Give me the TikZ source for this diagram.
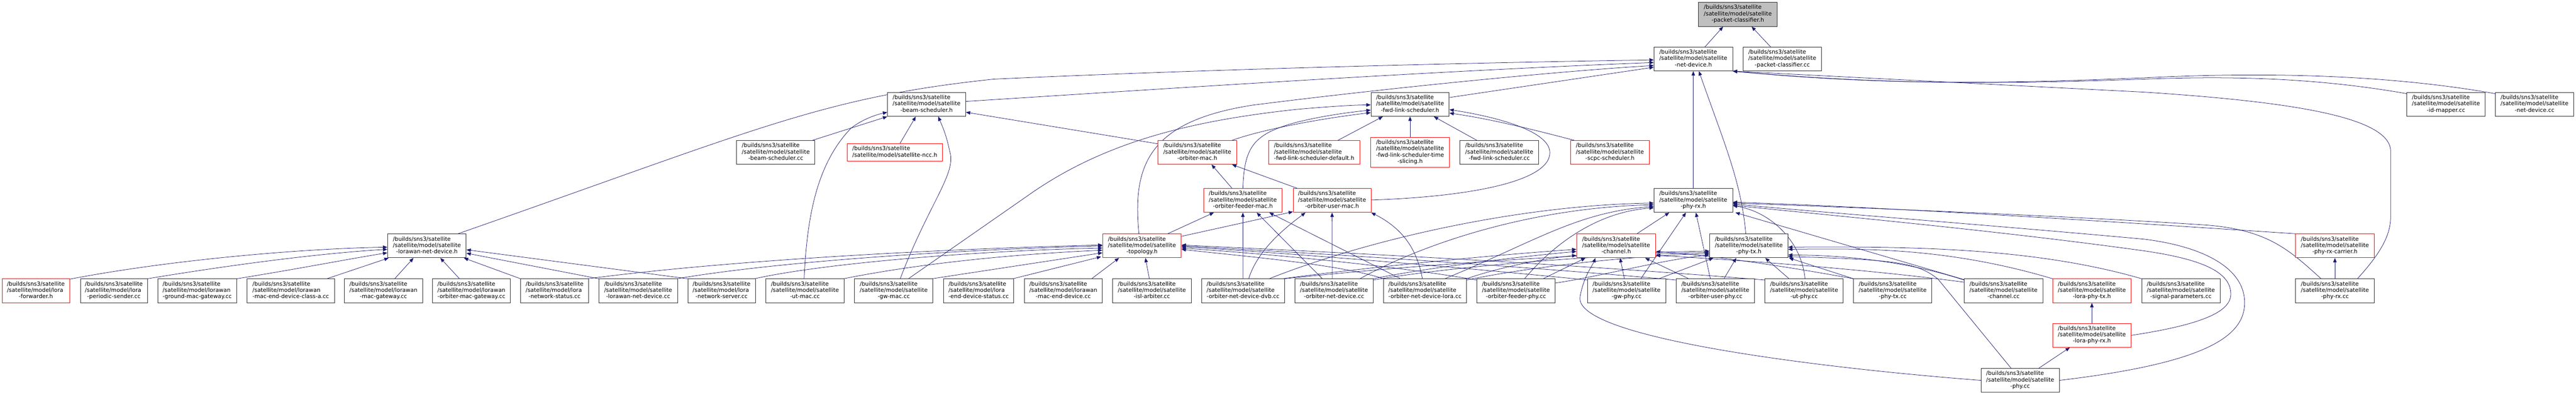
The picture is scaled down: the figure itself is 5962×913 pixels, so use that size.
\documentclass[tikz,border=0pt]{standalone}
\usepackage{fontspec}
\setmainfont{DejaVu Sans}
\usetikzlibrary{arrows.meta,calc}
\definecolor{edgeblue}{RGB}{25,25,112}
\definecolor{boxline}{RGB}{45,45,45}
\definecolor{rootfill}{RGB}{191,191,191}
\newcommand\nodefont{\fontsize{13}{14.5}\selectfont}
\newcommand\lthree[3]{\begin{tabular}{@{}l@{}}#1\\#2\\\multicolumn{1}{@{}c@{}}{#3}\end{tabular}}
\newcommand\sat[1]{\lthree{/builds/sns3/satellite}{/satellite/model/satellite}{#1}}
\newcommand\mdl[2]{\lthree{/builds/sns3/satellite}{/satellite/model/#1}{#2}}
\newcommand\nd[7]{\node[#6, minimum width={(#4-#2)*1pt}, minimum height={(#5-#3)*1pt}] (#1) at ({(#2+#4)/2},{(#3+#5)/2}) {#7};}
\pgfdeclarelayer{bg}
\pgfsetlayers{bg,main}
\tikzset{
  box/.style={draw=boxline, line width=1.1pt, fill=white, inner sep=0pt, font=\nodefont},
  redbox/.style={box, draw=red},
  rootbox/.style={box, fill=rootfill},
  e/.style={draw=edgeblue, line width=0.9pt, -{Triangle[length=10pt,width=8pt]}}
}
\begin{document}
\begin{tikzpicture}[x=1pt,y=-1pt]
\useasboundingbox (0,0) rectangle (5962,913);
% row A/B/C
\nd{pch}{3931}{5}{4113}{61}{rootbox}{\sat{-packet-classifier.h}}
\nd{ndh}{3828}{109}{4010}{164}{box}{\sat{-net-device.h}}
\nd{pcc}{4034}{109}{4216}{164}{box}{\sat{-packet-classifier.cc}}
\nd{bsh}{2054}{214}{2235}{269}{box}{\sat{-beam-scheduler.h}}
\nd{flsh}{3173}{214}{3354}{269}{box}{\sat{-fwd-link-scheduler.h}}
\nd{idm}{5570}{214}{5752}{269}{box}{\sat{-id-mapper.cc}}
\nd{ndcc}{5775}{214}{5957}{269}{box}{\sat{-net-device.cc}}
% row D
\nd{bscc}{1705}{325}{1886}{380}{box}{\sat{-beam-scheduler.cc}}
\nd{ncc}{1961}{332}{2181}{373}{redbox}{\begin{tabular}{@{}l@{}}/builds/sns3/satellite\\/satellite/model/satellite-ncc.h\end{tabular}}
\nd{omh}{2680}{325}{2862}{380}{redbox}{\sat{-orbiter-mac.h}}
\nd{flsd}{2936}{325}{3147}{380}{redbox}{\sat{-fwd-link-scheduler-default.h}}
\nd{flst}{3172}{318}{3355}{387}{redbox}{\begin{tabular}{@{}l@{}}/builds/sns3/satellite\\/satellite/model/satellite\\-fwd-link-scheduler-time\\\multicolumn{1}{@{}c@{}}{-slicing.h}\end{tabular}}
\nd{flscc}{3379}{325}{3561}{380}{box}{\sat{-fwd-link-scheduler.cc}}
\nd{scpc}{3635}{325}{3817}{380}{redbox}{\sat{-scpc-scheduler.h}}
% row E
\nd{ofm}{2786}{436}{2967}{491}{redbox}{\sat{-orbiter-feeder-mac.h}}
\nd{oum}{2993}{436}{3173}{491}{redbox}{\sat{-orbiter-user-mac.h}}
\nd{prxh}{3828}{436}{4010}{491}{box}{\sat{-phy-rx.h}}
% row F
\nd{lnd}{897}{541}{1079}{596}{box}{\sat{-lorawan-net-device.h}}
\nd{topo}{2552}{541}{2734}{596}{redbox}{\sat{-topology.h}}
\nd{chh}{3649}{541}{3832}{596}{redbox}{\sat{-channel.h}}
\nd{ptxh}{3957}{541}{4138}{596}{box}{\sat{-phy-tx.h}}
\nd{prc}{5313}{541}{5495}{596}{redbox}{\sat{-phy-rx-carrier.h}}
% row G
\nd{fwd}{5}{645}{161}{700}{redbox}{\mdl{lora}{-forwarder.h}}
\nd{pss}{186}{645}{341}{700}{box}{\mdl{lora}{-periodic-sender.cc}}
\nd{gmg}{365}{645}{548}{700}{box}{\mdl{lorawan}{-ground-mac-gateway.cc}}
\nd{meda}{572}{645}{774}{700}{box}{\mdl{lorawan}{-mac-end-device-class-a.cc}}
\nd{mgw}{797}{645}{978}{700}{box}{\mdl{lorawan}{-mac-gateway.cc}}
\nd{omg}{1001}{645}{1181}{700}{box}{\mdl{lorawan}{-orbiter-mac-gateway.cc}}
\nd{nst}{1205}{645}{1362}{700}{box}{\mdl{lora}{-network-status.cc}}
\nd{lndcc}{1386}{645}{1568}{700}{box}{\sat{-lorawan-net-device.cc}}
\nd{nsv}{1592}{645}{1748}{700}{box}{\mdl{lora}{-network-server.cc}}
\nd{utm}{1772}{645}{1954}{700}{box}{\sat{-ut-mac.cc}}
\nd{gwm}{1978}{645}{2159}{700}{box}{\sat{-gw-mac.cc}}
\nd{eds}{2184}{645}{2346}{700}{box}{\mdl{lora}{-end-device-status.cc}}
\nd{med}{2371}{645}{2551}{700}{box}{\mdl{lorawan}{-mac-end-device.cc}}
\nd{isl}{2575}{645}{2757}{700}{box}{\sat{-isl-arbiter.cc}}
\nd{ondd}{2781}{645}{2973}{700}{box}{\sat{-orbiter-net-device-dvb.cc}}
\nd{ond}{2997}{645}{3178}{700}{box}{\sat{-orbiter-net-device.cc}}
\nd{ondl}{3202}{645}{3394}{700}{box}{\sat{-orbiter-net-device-lora.cc}}
\nd{ofp}{3418}{645}{3599}{700}{box}{\sat{-orbiter-feeder-phy.cc}}
\nd{gwp}{3674}{645}{3855}{700}{box}{\sat{-gw-phy.cc}}
\nd{oup}{3879}{645}{4061}{700}{box}{\sat{-orbiter-user-phy.cc}}
\nd{utp}{4085}{645}{4266}{700}{box}{\sat{-ut-phy.cc}}
\nd{ptxcc}{4290}{645}{4471}{700}{box}{\sat{-phy-tx.cc}}
\nd{chcc}{4546}{645}{4728}{700}{box}{\sat{-channel.cc}}
\nd{lptx}{4751}{645}{4932}{700}{redbox}{\sat{-lora-phy-tx.h}}
\nd{sigp}{4957}{645}{5138}{700}{box}{\sat{-signal-parameters.cc}}
\nd{prxcc}{5313}{645}{5495}{700}{box}{\sat{-phy-rx.cc}}
% rows H, I
\nd{lprx}{4751}{748}{4932}{803}{redbox}{\sat{-lora-phy-rx.h}}
\nd{phycc}{4585}{852}{4766}{907}{box}{\sat{-phy.cc}}

\begin{pgfonlayer}{bg}
% root
\draw[e] ($(ndh.north)+(27,0)$) -- ($(pch.south)+(-34,0)$);
\draw[e] ($(pcc.north)+(-27,0)$) -- ($(pch.south)+(32,0)$);
% into net-device.h
\draw[e] ($(lnd.north)+(72,0)$) .. controls (1750,300) and (1900,225) .. (2300,183) .. controls (2800,160) and (3400,145) .. ($(ndh.west)+(0,2)$);
\draw[e] ($(bsh.east)+(0,-7)$) .. controls (2700,205) and (3300,165) .. ($(ndh.west)+(0,8)$);
\draw[e] ($(topo.north)+(-7,0)$) .. controls (2620,380) and (2660,280) .. (2900,243) .. controls (3200,205) and (3600,165) .. ($(ndh.west)+(0,15)$);
\draw[e] ($(flsh.north east)+(0,12)$) -- ($(ndh.west)+(0,19)$);
\draw[e] (prxh.north) -- (ndh.south);
\draw[e] ($(ptxh.north)+(-7,0)$) .. controls (4030,420) and (3990,330) .. ($(ndh.south)+(13,0)$);
\draw[e] ($(idm.north west)+(0,3)$) .. controls (5350,178) and (5150,176) .. (4962,183) .. controls (4700,192) and (4400,200) .. (ndh.south east);
\draw[e] ($(ndcc.north west)+(0,3)$) .. controls (5500,168) and (5200,168) .. (4962,180) .. controls (4700,190) and (4400,202) .. (ndh.south east);
\draw[e] ($(prxcc.north)+(52,0)$) .. controls (5515,580) and (5533,540) .. (5533,500) -- (5533,350) .. controls (5533,270) and (5300,235) .. (4962,213) -- (ndh.south east);
% into beam-scheduler.h
\draw[e] ($(bscc.north east)+(-6,0)$) -- (bsh.south west);
\draw[e] ($(utm.north)+(-2,0)$) .. controls (1868,500) and (1890,380) .. (1969,297) .. controls (1990,280) and (2020,267) .. ($(bsh.west)+(0,18)$);
\draw[e] ($(ncc.north)+(12,0)$) -- ($(bsh.south)+(-25,0)$);
\draw[e] ($(gwm.north)+(15,0)$) .. controls (2150,470) and (2215,400) .. (2198,350) .. controls (2190,310) and (2180,290) .. ($(bsh.south)+(27,0)$);
\draw[e] ($(omh.north west)+(0,8)$) -- ($(bsh.east)+(0,18)$);
% into fwd-link-scheduler.h
\draw[e] ($(gwm.north)+(34,0)$) -- (2375,455) .. controls (2550,330) and (2750,280) .. (3000,253) .. controls (3080,246) and (3130,243) .. ($(flsh.west)+(0,1)$);
\draw[e] (ofm.north) .. controls (2880,340) and (2900,310) .. (3000,283) .. controls (3060,268) and (3120,260) .. ($(flsh.west)+(0,13)$);
\draw[e] ($(omh.north east)+(-11,0)$) .. controls (2920,300) and (3050,275) .. ($(flsh.west)+(0,19)$);
\draw[e] ($(flsd.north east)+(-51,0)$) -- ($(flsh.south west)+(28,0)$);
\draw[e] (flst.north) -- (flsh.south);
\draw[e] ($(flscc.north)+(-52,0)$) -- ($(flsh.south)+(55,0)$);
\draw[e] ($(scpc.north west)+(9,0)$) .. controls (3550,300) and (3450,275) .. ($(flsh.east)+(0,20)$);
\draw[e] ($(oum.east)+(0,-1)$) .. controls (3400,455) and (3587,420) .. (3587,353) .. controls (3587,300) and (3450,268) .. ($(flsh.east)+(0,12)$);
% orbiter-mac.h
\draw[e] ($(ofm.north)+(-25,0)$) -- ($(omh.south)+(33,0)$);
\draw[e] ($(oum.north west)+(10,0)$) -- ($(omh.south east)+(-11,0)$);
% orbiter-feeder-mac.h
\draw[e] ($(topo.north east)+(-32,0)$) -- ($(ofm.south west)+(24,0)$);
\draw[e] (ondd.north) -- (ofm.south);
\draw[e] ($(ond.north)+(-27,0)$) -- ($(ofm.south)+(32,0)$);
\draw[e] ($(ondl.north west)+(40,0)$) -- ($(ofm.south east)+(-30,0)$);
% orbiter-user-mac.h
\draw[e] ($(topo.north east)+(0,6)$) -- ($(oum.south west)+(0,-2)$);
\draw[e] ($(ondd.north)+(13,0)$) .. controls (2910,580) and (2970,530) .. ($(oum.south west)+(29,0)$);
\draw[e] ($(ond.north)+(-4,0)$) -- (oum.south);
\draw[e] ($(ondl.north)+(-6,0)$) .. controls (3280,580) and (3250,530) .. (oum.south east);
% lorawan-net-device.h
\draw[e] ($(fwd.north east)+(0,1)$) .. controls (400,600) and (700,575) .. ($(lnd.west)+(0,3)$);
\draw[e] (pss.north east) .. controls (550,610) and (750,585) .. ($(lnd.west)+(0,8)$);
\draw[e] (gmg.north east) .. controls (700,620) and (800,600) .. ($(lnd.west)+(0,16)$);
\draw[e] ($(meda.north east)+(-18,0)$) -- ($(lnd.south west)+(3,0)$);
\draw[e] ($(mgw.north)+(26,0)$) -- ($(lnd.south)+(-31,0)$);
\draw[e] ($(omg.north west)+(63,0)$) -- ($(lnd.south)+(31,0)$);
\draw[e] (nst.north west) -- ($(lnd.south east)+(-6,0)$);
\draw[e] (lndcc.north west) -- ($(lnd.east)+(0,17)$);
\draw[e] (nsv.north west) -- ($(lnd.east)+(0,9)$);
% topology.h from left/below
\draw[e] ($(nst.north east)+(-2,0)$) .. controls (1700,600) and (2200,575) .. ($(topo.west)+(0,-2)$);
\draw[e] ($(lndcc.north east)+(-2,0)$) .. controls (1800,605) and (2200,578) .. (topo.west);
\draw[e] ($(nsv.north east)+(-2,0)$) .. controls (1900,610) and (2250,580) .. ($(topo.west)+(0,5)$);
\draw[e] ($(utm.north east)+(-2,0)$) .. controls (2100,615) and (2300,590) .. ($(topo.west)+(0,10)$);
\draw[e] ($(gwm.north east)+(-2,0)$) -- ($(topo.west)+(0,16)$);
\draw[e] ($(eds.north east)+(-2,0)$) -- ($(topo.south west)+(-3,-3)$);
\draw[e] ($(med.north east)+(-25,0)$) -- ($(topo.south)+(-53,0)$);
\draw[e] ($(isl.north)+(-6,0)$) -- ($(topo.south)+(8,0)$);
% topology.h from right
\draw[e] (ondl.north west) .. controls (3100,610) and (2850,590) .. ($(topo.east)+(0,8)$);
\draw[e] ($(ofp.north west)+(0,3)$) .. controls (3200,610) and (2900,585) .. ($(topo.east)+(0,5)$);
\draw[e] ($(gwp.north west)+(0,3)$) .. controls (3300,610) and (2900,580) .. ($(topo.east)+(0,2)$);
\draw[e] ($(oup.north west)+(0,3)$) .. controls (3400,605) and (2900,578) .. (topo.east);
\draw[e] ($(utp.north west)+(0,3)$) .. controls (3500,600) and (2900,575) .. ($(topo.east)+(0,-2)$);
% channel.h
\draw[e] ($(ondd.north east)+(-5,0)$) .. controls (3150,620) and (3450,590) .. ($(chh.west)+(0,8)$);
\draw[e] (ond.north east) .. controls (3300,620) and (3500,595) .. ($(chh.west)+(0,13)$);
\draw[e] (ondl.north east) .. controls (3450,625) and (3550,600) .. ($(chh.west)+(0,22)$);
\draw[e] ($(ofp.north east)+(-28,0)$) -- ($(chh.south west)+(21,0)$);
\draw[e] ($(gwp.north)+(-5,0)$) -- ($(chh.south)+(9,0)$);
\draw[e] ($(oup.north west)+(30,0)$) -- ($(chh.south east)+(-25,0)$);
\draw[e] (phycc.west) .. controls (4200,850) and (3640,780) .. (3657,686) .. controls (3665,640) and (3685,615) .. ($(chh.south)+(-48,0)$);
\draw[e] ($(chcc.north west)+(0,8)$) .. controls (4300,620) and (4000,600) .. ($(chh.east)+(0,22)$);
\draw[e] (ptxcc.north west) .. controls (4100,610) and (3950,590) .. ($(chh.east)+(0,13)$);
% phy-tx.h
\draw[e] (ondd.north east) .. controls (3300,610) and (3700,585) .. ($(ptxh.west)+(0,12)$);
\draw[e] ($(ond.north east)+(0,3)$) .. controls (3400,610) and (3750,588) .. ($(ptxh.west)+(0,15)$);
\draw[e] ($(ondl.north east)+(0,3)$) .. controls (3550,615) and (3800,590) .. ($(ptxh.west)+(0,18)$);
\draw[e] ($(ofp.east)+(0,-18)$) .. controls (3700,640) and (3850,600) .. ($(ptxh.west)+(0,21)$);
\draw[e] ($(gwp.north east)+(-16,0)$) -- ($(ptxh.south west)+(9,0)$);
\draw[e] ($(oup.north)+(20,0)$) -- ($(ptxh.south west)+(62,0)$);
\draw[e] ($(utp.north)+(-35,0)$) -- ($(ptxh.south)+(38,0)$);
\draw[e] (ptxcc.north west) -- ($(ptxh.south east)+(2,0)$);
\draw[e] ($(chcc.north west)+(0,3)$) .. controls (4400,600) and (4250,590) .. ($(ptxh.east)+(0,21)$);
\draw[e] (lptx.north west) .. controls (4500,570) and (4300,575) .. ($(ptxh.east)+(0,8)$);
\draw[e] (sigp.north west) .. controls (4700,570) and (4400,570) .. ($(ptxh.east)+(0,3)$);
\draw[e] ($(phycc.north)+(-21,0)$) -- (4485,645) .. controls (4440,610) and (4400,600) .. ($(ptxh.east)+(0,25)$);
% phy-rx.h
\draw[e] ($(chh.north east)+(-44,0)$) -- ($(prxh.south west)+(36,0)$);
\draw[e] ($(gwp.north east)+(-58,0)$) -- ($(prxh.south)+(-17,0)$);
\draw[e] ($(oup.north west)+(80,0)$) -- ($(prxh.south)+(6,0)$);
\draw[e] (prc.north west) .. controls (5000,520) and (4400,480) .. ($(prxh.east)+(0,4)$);
\draw[e] ($(prxcc.north)+(-32,0)$) .. controls (5300,580) and (5250,530) .. (5100,520) .. controls (4800,500) and (4300,480) .. ($(prxh.east)+(0,6)$);
\draw[e] (phycc.east) .. controls (5100,840) and (5195,780) .. (5195,700) .. controls (5195,620) and (5100,570) .. (4962,553) .. controls (4600,520) and (4200,490) .. ($(prxh.east)+(0,8)$);
\draw[e] (lprx.east) .. controls (5100,750) and (5163,720) .. (5163,680) .. controls (5163,630) and (5100,600) .. (4962,580) .. controls (4600,530) and (4200,495) .. ($(prxh.east)+(0,11)$);
\draw[e] ($(chcc.north west)+(0,2)$) -- ($(prxh.south east)+(6,0)$);
\draw[e] ($(utp.north)+(2,0)$) .. controls (4170,560) and (4100,490) .. ($(prxh.east)+(0,12)$);
\draw[e] ($(ondd.north east)+(-36,0)$) .. controls (3150,560) and (3500,475) .. ($(prxh.west)+(0,6)$);
\draw[e] ($(ond.north east)+(-31,0)$) .. controls (3300,560) and (3550,480) .. ($(prxh.west)+(0,10)$);
\draw[e] ($(ondl.north)+(46,0)$) .. controls (3550,560) and (3650,490) .. ($(prxh.west)+(0,14)$);
\draw[e] ($(ofp.north)+(20,0)$) .. controls (3600,560) and (3700,490) .. ($(prxh.west)+(0,17)$);
% misc
\draw[e] (prxcc.north) -- (prc.south);
\draw[e] (lprx.north) -- (lptx.south);
\draw[e] ($(phycc.north east)+(-48,0)$) -- ($(lprx.south west)+(40,0)$);
\end{pgfonlayer}
\end{tikzpicture}
\end{document}
